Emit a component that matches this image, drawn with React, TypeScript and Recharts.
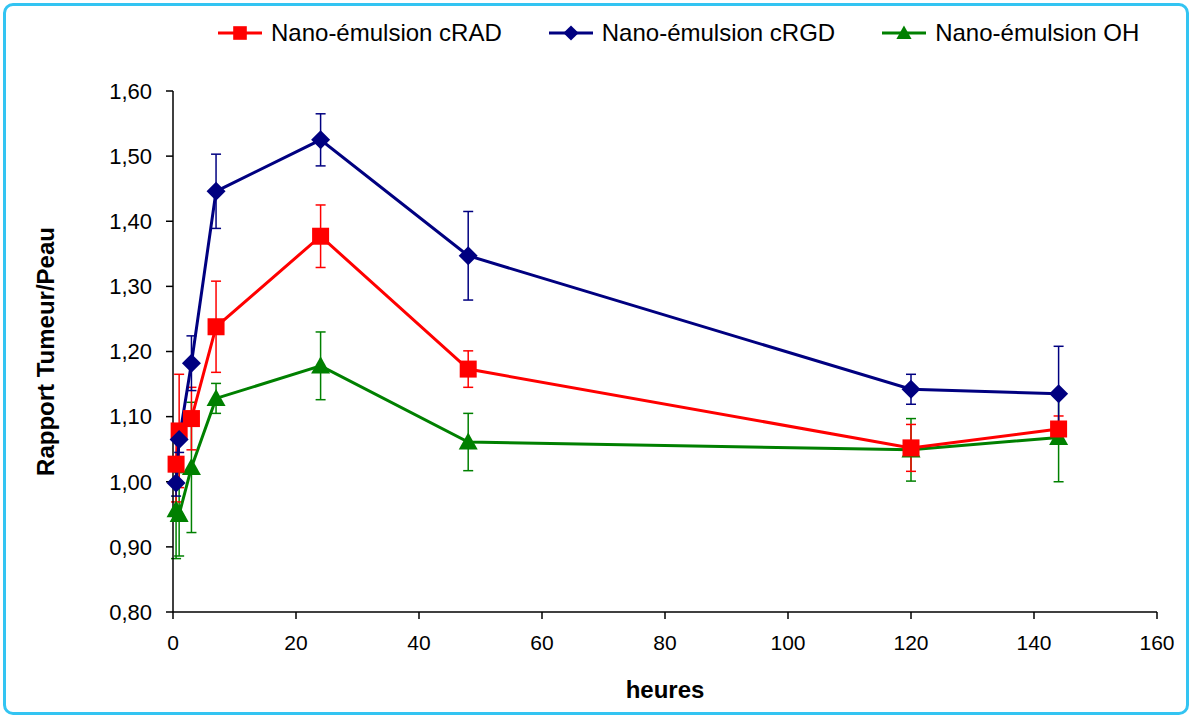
import React from 'react';
import { LineChart, Line, XAxis, YAxis, ErrorBar, Legend } from 'recharts';

// sampling times (heures)
const hours = [0.5, 1, 3, 7, 24, 48, 120, 144];

// Nano-émulsion cRAD
const radMean = [1.027, 1.078, 1.097, 1.238, 1.377, 1.173, 1.052, 1.081];
const radErr = [0.058, 0.087, 0.048, 0.07, 0.048, 0.028, 0.036, 0.02];

// Nano-émulsion cRGD
const rgdMean = [0.998, 1.065, 1.182, 1.446, 1.525, 1.347, 1.142, 1.135];
const rgdErr = [0.02, 0.02, 0.042, 0.057, 0.04, 0.068, 0.023, 0.073];

// Nano-émulsion OH
const ohMean = [0.957, 0.95, 1.022, 1.128, 1.178, 1.061, 1.049, 1.068];
const ohErr = [0.075, 0.064, 0.1, 0.023, 0.052, 0.044, 0.048, 0.068];

const xTicks = [0, 20, 40, 60, 80, 100, 120, 140, 160];
const yTicks = [0.8, 0.9, 1.0, 1.1, 1.2, 1.3, 1.4, 1.5, 1.6];

const RED = '#FF0000';
const NAVY = '#000080';
const GREEN = '#008000';
const FONT = '"Liberation Sans", Arial, sans-serif';

const data = hours.map((h, i) => ({
  h,
  rad: radMean[i],
  radErr: radErr[i],
  rgd: rgdMean[i],
  rgdErr: rgdErr[i],
  oh: ohMean[i],
  ohErr: ohErr[i],
}));

type Shape = 'square' | 'diamond' | 'triangle';

function marker(shape: Shape, x: number, y: number, color: string, s = 1) {
  if (shape === 'square') {
    const r = 8.5 * s;
    return <rect x={x - r} y={y - r} width={2 * r} height={2 * r} fill={color} />;
  }
  if (shape === 'diamond') {
    const r = 9.5 * s;
    return <polygon points={`${x},${y - r} ${x + r},${y} ${x},${y + r} ${x - r},${y}`} fill={color} />;
  }
  const w = 9.5 * s;
  const h = 9.5 * s;
  return <polygon points={`${x},${y - h} ${x + w},${y + h * 0.8} ${x - w},${y + h * 0.8}`} fill={color} />;
}

const dotFor = (shape: Shape, color: string) => (props: any) => {
  const { cx, cy, index } = props;
  if (cx == null || cy == null) return <g key={index} />;
  return <g key={`${shape}-${index}`}>{marker(shape, cx, cy, color)}</g>;
};

const legendItems: { label: string; color: string; shape: Shape }[] = [
  { label: 'Nano-émulsion cRAD', color: RED, shape: 'square' },
  { label: 'Nano-émulsion cRGD', color: NAVY, shape: 'diamond' },
  { label: 'Nano-émulsion OH', color: GREEN, shape: 'triangle' },
];

const LegendContent = () => (
  <div style={{ display: 'flex', gap: 47, fontFamily: FONT, fontSize: 24, color: '#000', marginLeft: 218 }}>
    {legendItems.map((it) => (
      <div key={it.label} style={{ display: 'flex', alignItems: 'center' }}>
        <svg width={44} height={20} style={{ marginRight: 9 }}>
          <line x1={0} y1={10} x2={44} y2={10} stroke={it.color} strokeWidth={3} />
          {marker(it.shape, 22, 10, it.color, 0.8)}
        </svg>
        <span>{it.label}</span>
      </div>
    ))}
  </div>
);

const YLabel = (props: any) => {
  const vb = props.viewBox || {};
  const cx = 45;
  const cy = vb.y + vb.height / 2;
  return (
    <text
      x={cx}
      y={cy}
      transform={`rotate(-90 ${cx} ${cy})`}
      textAnchor="middle"
      dominantBaseline="central"
      fontFamily={FONT}
      fontWeight="bold"
      fontSize={24}
      fill="#000"
    >
      Rapport Tumeur/Peau
    </text>
  );
};

const fmt = (v: number) => v.toFixed(2).replace('.', ',');

export default function App() {
  return (
    <div style={{ position: 'absolute', left: 0, top: 0, width: 1196, height: 722, background: '#fff' }}>
      <div
        style={{
          position: 'absolute',
          left: 3,
          top: 3,
          width: 1186,
          height: 712,
          border: '3px solid #33C4F2',
          borderRadius: 10,
          boxSizing: 'border-box',
        }}
      />
      <div style={{ position: 'absolute', left: 0, top: 0 }}>
        <LineChart width={1196} height={722} data={data} margin={{ top: 63, right: 39, bottom: 0, left: 23 }}>
          <XAxis
            type="number"
            dataKey="h"
            domain={[0, 160]}
            ticks={xTicks}
            height={110}
            stroke="#000"
            strokeWidth={1.5}
            tickSize={7}
            tickMargin={16}
            tick={{ fill: '#000', fontSize: 21, fontFamily: FONT }}
            label={{
              value: 'heures',
              position: 'insideBottom',
              offset: 24,
              style: { fill: '#000', fontSize: 24, fontWeight: 'bold', fontFamily: FONT },
            }}
          />
          <YAxis
            type="number"
            domain={[0.8, 1.6]}
            ticks={yTicks}
            width={150}
            stroke="#000"
            strokeWidth={1.5}
            tickSize={7}
            tickMargin={14}
            tickFormatter={fmt}
            tick={{ fill: '#000', fontSize: 22, fontFamily: FONT }}
            label={<YLabel />}
          />
          <Legend
            verticalAlign="top"
            align="left"
            content={<LegendContent />}
            wrapperStyle={{ top: 19, left: 0, width: 1196 }}
          />
          <Line
            dataKey="oh"
            stroke={GREEN}
            strokeWidth={3}
            dot={dotFor('triangle', GREEN)}
            isAnimationActive={false}
          >
            <ErrorBar dataKey="ohErr" width={5} stroke={GREEN} strokeWidth={1.5} direction="y" />
          </Line>
          <Line
            dataKey="rad"
            stroke={RED}
            strokeWidth={3}
            dot={dotFor('square', RED)}
            isAnimationActive={false}
          >
            <ErrorBar dataKey="radErr" width={5} stroke={RED} strokeWidth={1.5} direction="y" />
          </Line>
          <Line
            dataKey="rgd"
            stroke={NAVY}
            strokeWidth={3}
            dot={dotFor('diamond', NAVY)}
            isAnimationActive={false}
          >
            <ErrorBar dataKey="rgdErr" width={5} stroke={NAVY} strokeWidth={1.5} direction="y" />
          </Line>
        </LineChart>
      </div>
    </div>
  );
}
